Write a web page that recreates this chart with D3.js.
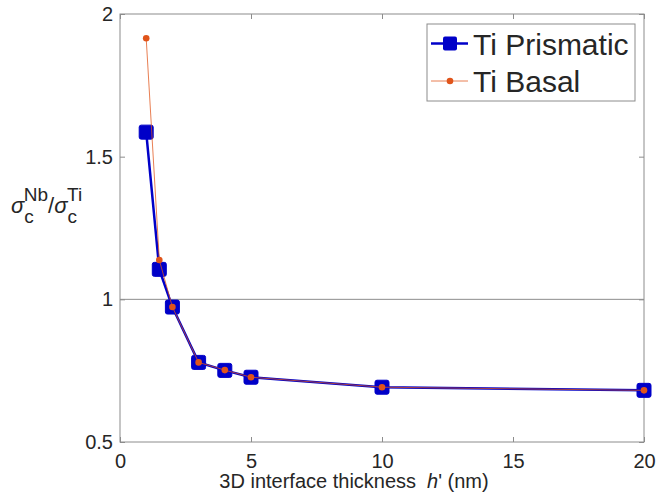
<!DOCTYPE html>
<html>
<head>
<meta charset="utf-8">
<script src="https://cdn.jsdelivr.net/npm/d3@7"></script>
<style>
  body { margin: 0; background: #fff; }
  text { font-family: "Liberation Sans", Arial, sans-serif; fill: #262626; }
</style>
</head>
<body>
<div id="chart"></div>
<script>
// data
var thickness = [1, 1.5, 2, 3, 4, 5, 10, 20];
var prismatic = [1.586, 1.105, 0.973, 0.779, 0.751, 0.727, 0.692, 0.681];
var basal = [1.915, 1.138, 0.973, 0.779, 0.752, 0.727, 0.692, 0.681];
var xTicks = [0, 5, 10, 15, 20];
var yTicks = [0.5, 1, 1.5, 2];
var yTickLabels = ["0.5", "1", "1.5", "2"];

var margin = {top: 14, right: 14, bottom: 58, left: 120},
    width = 658 - margin.left - margin.right,
    height = 500 - margin.top - margin.bottom;

var svg = d3.select("#chart")
  .append("svg")
    .attr("width", 658)
    .attr("height", 500);

var g = svg.append("g")
    .attr("transform", "translate(" + margin.left + "," + margin.top + ")");

var x = d3.scaleLinear().domain([0, 20]).range([0, width]);
var y = d3.scaleLinear().domain([0.5, 2]).range([height, 0]);

var axisColor = "#8c8c8c";

// reference line at ratio = 1
g.append("line")
  .attr("x1", 0).attr("x2", width)
  .attr("y1", y(1)).attr("y2", y(1))
  .attr("stroke", "#8c8c8c")
  .attr("stroke-width", 1);

// axes (ticks pointing inward, box on)
function styleAxis(sel) {
  sel.select(".domain").remove();
  sel.selectAll("line").attr("stroke", axisColor);
  sel.selectAll("text").style("font-size", "20px").attr("fill", "#262626");
}

g.append("g")
  .attr("transform", "translate(0," + height + ")")
  .call(d3.axisBottom(x).tickValues(xTicks).tickSizeInner(-5).tickSizeOuter(0).tickPadding(12).tickFormat(d3.format("d")))
  .call(styleAxis);

g.append("g")
  .call(d3.axisTop(x).tickValues(xTicks).tickSizeInner(-5).tickSizeOuter(0).tickFormat(""))
  .call(styleAxis);

g.append("g")
  .call(d3.axisLeft(y).tickValues(yTicks).tickSizeInner(-5).tickSizeOuter(0).tickPadding(7)
    .tickFormat(function(d, i) { return yTickLabels[i]; }))
  .call(styleAxis);

g.append("g")
  .attr("transform", "translate(" + width + ",0)")
  .call(d3.axisRight(y).tickValues(yTicks).tickSizeInner(-5).tickSizeOuter(0).tickFormat(""))
  .call(styleAxis);

g.append("rect")
  .attr("width", width).attr("height", height)
  .attr("fill", "none")
  .attr("stroke", axisColor)
  .attr("stroke-width", 1);

// series
var blue = "#0000c8", orange = "#e0541a";

var lineP = d3.line()
  .x(function(d, i) { return x(thickness[i]); })
  .y(function(d) { return y(d); });

g.append("path")
  .datum(prismatic)
  .attr("d", lineP)
  .attr("fill", "none")
  .attr("stroke", blue)
  .attr("stroke-width", 2.5);

g.selectAll(".sq")
  .data(prismatic)
  .enter()
  .append("rect")
    .attr("class", "sq")
    .attr("x", function(d, i) { return x(thickness[i]) - 7; })
    .attr("y", function(d) { return y(d) - 7; })
    .attr("width", 14).attr("height", 14)
    .attr("rx", 2)
    .attr("fill", blue)
    .attr("stroke", blue)
    .attr("stroke-width", 1);

g.append("path")
  .datum(basal)
  .attr("d", lineP)
  .attr("fill", "none")
  .attr("stroke", orange)
  .attr("stroke-opacity", 0.75)
  .attr("stroke-width", 1);

g.selectAll(".dot")
  .data(basal)
  .enter()
  .append("circle")
    .attr("class", "dot")
    .attr("cx", function(d, i) { return x(thickness[i]); })
    .attr("cy", function(d) { return y(d); })
    .attr("r", 3.3)
    .attr("fill", orange);

// axis labels
var xl = svg.append("text")
  .attr("x", 354).attr("y", 488)
  .attr("text-anchor", "middle")
  .style("font-size", "20px");
xl.append("tspan").text("3D interface thickness");
xl.append("tspan").attr("dx", 11).style("font-style", "italic").text("h");
xl.append("tspan").text("' (nm)");

var yl = svg.append("text")
  .attr("x", 11).attr("y", 213)
  .style("font-size", "22px");
yl.append("tspan").style("font-style", "italic").text("σ");
yl.append("tspan").attr("dy", 10).style("font-size", "19px").text("c");
yl.append("tspan").attr("dx", -10).attr("dy", -22).style("font-size", "19px").text("Nb");
yl.append("tspan").attr("dy", 12).text("/");
yl.append("tspan").style("font-style", "italic").text("σ");
yl.append("tspan").attr("dy", 10).style("font-size", "19px").text("c");
yl.append("tspan").attr("dx", -10).attr("dy", -22).style("font-size", "19px").text("Ti");

// legend
var legend = svg.append("g");
legend.append("rect")
  .attr("x", 427).attr("y", 24)
  .attr("width", 208).attr("height", 77)
  .attr("fill", "#fff")
  .attr("stroke", axisColor)
  .attr("stroke-width", 1);

var items = [
  {name: "Ti Prismatic", color: blue, w: 2.5, marker: "square"},
  {name: "Ti Basal", color: orange, w: 1, marker: "dot"}
];
items.forEach(function(it, i) {
  var cy = 43.5 + i * 37.5;
  legend.append("line")
    .attr("x1", 431).attr("x2", 468)
    .attr("y1", cy).attr("y2", cy)
    .attr("stroke", it.color)
    .attr("stroke-opacity", it.marker === "dot" ? 0.75 : 1)
    .attr("stroke-width", it.w);
  if (it.marker === "square") {
    legend.append("rect")
      .attr("x", 443).attr("y", cy - 7)
      .attr("width", 14).attr("height", 14).attr("rx", 2)
      .attr("fill", it.color);
  } else {
    legend.append("circle")
      .attr("cx", 450).attr("cy", cy).attr("r", 3.3)
      .attr("fill", it.color);
  }
  legend.append("text")
    .attr("x", 473).attr("y", cy + 11)
    .style("font-size", "30px")
    .attr("fill", "#000")
    .text(it.name);
});
</script>
</body>
</html>
